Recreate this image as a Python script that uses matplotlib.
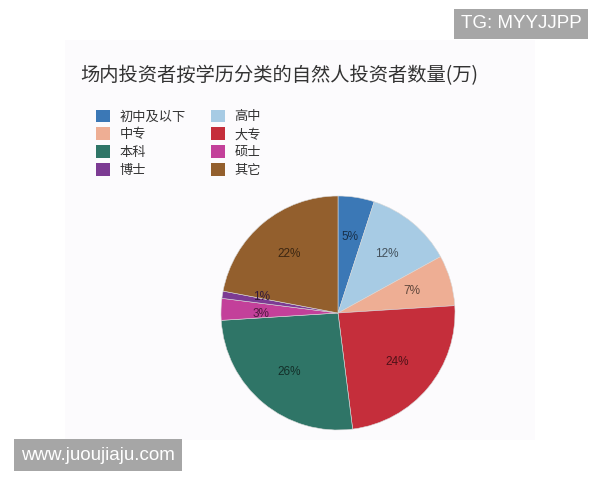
import matplotlib.pyplot as plt
import matplotlib.patches as mpatches
from matplotlib.colors import to_rgb

plt.rcParams['font.family'] = ['Noto Sans CJK SC', 'DejaVu Sans']

# Data
labels = ['初中及以下', '高中', '中专', '大专', '本科', '硕士', '博士', '其它']
values = [5, 12, 7, 24, 26, 3, 1, 22]
colors = ['#3b78b6', '#a7cbe4', '#eeae94', '#c52e3b', '#2f7567', '#c3409a', '#7c3b93', '#935f2d']
title = '场内投资者按学历分类的自然人投资者数量(万)'


def darken(c, f=0.4):
    r, g, b = to_rgb(c)
    return (r * f, g * f, b * f)


fig = plt.figure(figsize=(6, 4.8), dpi=100)
fig.patch.set_facecolor('white')

# off-white panel behind the chart
fig.patches.append(mpatches.Rectangle((65 / 600, 1 - 440 / 480), 470 / 600, 400 / 480,
                                      transform=fig.transFigure, facecolor='#fcfbfd',
                                      edgecolor='none', zorder=-1))

ax = fig.add_axes([221 / 600, 1 - 430 / 480, 234 / 600, 234 / 480], zorder=2)
ax.patch.set_alpha(0)
wedges, texts, autotexts = ax.pie(values, colors=colors, startangle=90, counterclock=False,
                                  autopct='%1.0f%%', pctdistance=0.66,
                                  wedgeprops=dict(edgecolor='#d8d8d8', linewidth=0.4))
for t, c in zip(autotexts, colors):
    t.set_color(darken(c))
    t.set_fontsize(8.5)
    t.set_family(['Liberation Sans', 'DejaVu Sans'])

# the two thin slices sit close together; keep their labels apart
x, y = autotexts[6].get_position()
autotexts[6].set_position((x, y + 0.03))
x, y = autotexts[5].get_position()
autotexts[5].set_position((x, y - 0.03))

ax.set_xlim(-1.0, 1.0)
ax.set_ylim(-1.0, 1.0)
ax.set_aspect('equal')
ax.axis('off')

fig.text(80 / 600, 1 - 76 / 480, title, fontsize=13.9, color='#333333', va='center', ha='left')

# legend, filled row by row
order = [0, 2, 4, 6, 1, 3, 5, 7]
handles = [mpatches.Patch(facecolor=colors[i], edgecolor='none') for i in order]
fig.legend(handles, [labels[i] for i in order], ncol=2, loc='upper left',
           bbox_to_anchor=(89 / 600, 1 - 103 / 480), frameon=False, fontsize=9.5,
           handlelength=1.1, handleheight=1.1, handletextpad=0.7,
           columnspacing=1.9, labelspacing=0.3, borderpad=0, labelcolor='#333333')

# watermarks
fig.text(521 / 600, 1 - 24 / 480, 'TG: MYYJJPP', fontsize=13.5, color='white', ha='center', va='center',
         family=['Liberation Sans', 'DejaVu Sans'],
         bbox=dict(boxstyle='square,pad=0.35', facecolor='#a6a6a6', edgecolor='none'))
fig.text(98 / 600, 1 - 455 / 480, 'www.juoujiaju.com', fontsize=13.5, color='white', ha='center', va='center',
         family=['Liberation Sans', 'DejaVu Sans'],
         bbox=dict(boxstyle='square,pad=0.4', facecolor='#a6a6a6', edgecolor='none'))

fig.savefig('out.png', dpi=100)
